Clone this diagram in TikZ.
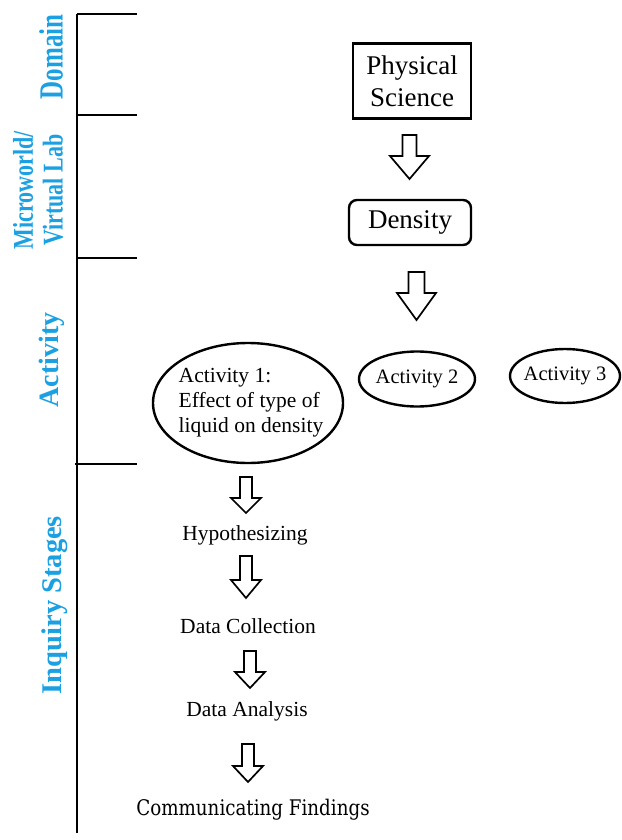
\documentclass[tikz,border=0pt]{standalone}
\usepackage{fontspec}
\setmainfont{Liberation Serif}
\newfontfamily\cambriaish{DejaVu Serif}
\usetikzlibrary{shapes.geometric}
\definecolor{lblblue}{RGB}{27,160,226}
\tikzset{
  axisline/.style={line width=2.8pt, black},
  lbl/.style={text=lblblue, font=\bfseries, rotate=90, inner sep=0pt, align=center},
  txt/.style={inner sep=0pt, text=black},
  blk/.style={draw, line width=1.7pt, fill=white, line join=miter},
  ell/.style={ellipse, draw, line width=2.4pt, inner sep=0pt},
  boxnode/.style={draw, line width=2.4pt, inner sep=0pt},
}
\newcommand\fsz[2]{\fontsize{#1}{#2}\selectfont}
\newcommand\blockarrow[6]{%
  \draw[blk] ({#1-#3},#2) -- ({#1+#3},#2) -- ({#1+#3},#5) -- ({#1+#4},#5) -- (#1,#6)
    -- ({#1-#4},#5) -- ({#1-#3},#5) -- cycle;}
\begin{document}
\begin{tikzpicture}[x=1pt,y=-1pt]
\useasboundingbox (0,0) rectangle (621,840);
% left axis
\coordinate (axtop) at (77,14);
\coordinate (axbot) at (77,833);
\draw[axisline] (axtop) -- (axbot);
\coordinate (t1a) at (77,14);  \coordinate (t1b) at (137,14);
\coordinate (t2a) at (77,115); \coordinate (t2b) at (137,115);
\coordinate (t3a) at (77,258); \coordinate (t3b) at (137,258);
\coordinate (t4a) at (75,464); \coordinate (t4b) at (137,464);
\draw[axisline] (t1a) -- (t1b);
\draw[axisline] (t2a) -- (t2b);
\draw[axisline] (t3a) -- (t3b);
\draw[axisline] (t4a) -- (t4b);
% labels
\node[lbl, yscale=1.35, font=\bfseries\fsz{25}{30}] (ldomain) at (51,57) {Domain};
\node[lbl, yscale=1.3, font=\bfseries\fsz{22}{23}] (lmicro) at (38,190) {Microworld/\\Virtual Lab};
\node[lbl, font=\bfseries\fsz{28}{32}] (lact) at (52,360) {Activity};
\node[lbl, font=\bfseries\fsz{28.5}{32}] (linq) at (55,605) {Inquiry Stages};
% top boxes
\node[boxnode, minimum width=118pt, minimum height=75pt] (phys) at (412,81) {};
\node[txt, align=center, font=\fsz{27}{32}] (physt) at (phys.center) {Physical\\Science};
\blockarrow{409.5}{135}{7}{19.5}{156}{179}
\node[boxnode, rounded corners=8pt, minimum width=122pt, minimum height=45pt] (dens) at (410,222.5) {};
\node[txt, font=\fsz{27}{32}] (denst) at (dens.center) {Density};
\blockarrow{416.5}{272}{8}{19.5}{293}{320}
% activities
\node[ell, minimum width=190pt, minimum height=120pt] (act1) at (248,403) {};
\node[txt, align=left, font=\fsz{21.5}{25}] (act1t) at (251,403) {Activity 1:\\Effect of type of\\liquid on density};
\node[ell, minimum width=116pt, minimum height=55pt] (act2) at (417,379) {};
\node[txt, font=\fsz{20.5}{24}] (act2t) at (act2.center) {Activity 2};
\node[ell, minimum width=110pt, minimum height=54pt] (act3) at (565,376) {};
\node[txt, font=\fsz{20.5}{24}] (act3t) at (act3.center) {Activity 3};
% inquiry stages
\blockarrow{246}{477}{6}{15}{498}{513}
\node[txt, font=\fsz{21.5}{25}] (hyp) at (245,535) {Hypothesizing};
\blockarrow{246}{556}{6}{15}{580}{598}
\node[txt, font=\fsz{21.5}{25}] (dcol) at (248,626) {Data Collection};
\blockarrow{250}{651}{6}{15}{672}{688}
\node[txt, font=\fsz{21.5}{25}] (dana) at (247,711) {Data Analysis};
\blockarrow{248}{744}{6}{15}{766}{782}
\node[txt, xscale=0.85, font=\cambriaish\fsz{21.5}{25}] (comm) at (253,810) {Communicating Findings};
\end{tikzpicture}
\end{document}
